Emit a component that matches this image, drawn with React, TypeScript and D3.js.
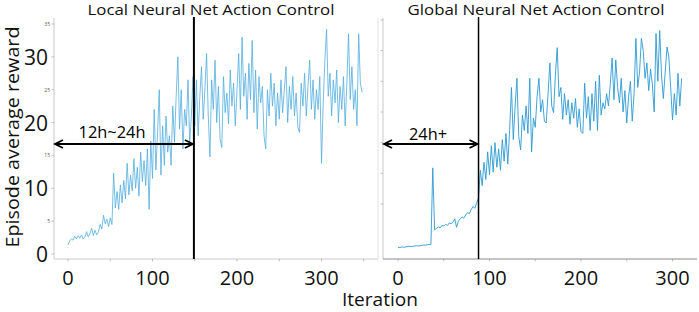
import React from 'react';
import * as d3 from 'd3';

// Iterations are sampled every STEP iterations, starting at 0
const STEP = 2;

// Local Neural Net Action Control: episode average reward (iter 0..348)
const localReward = [
  1.4, 2.0, 2.3, 2.1, 2.7, 2.3, 2.8, 2.4, 2.9, 2.3,
  2.6, 3.4, 2.6, 3.1, 3.9, 2.8, 3.6, 2.9, 3.3, 4.5,
  3.8, 5.9, 4.6, 5.3, 4.2, 5.5,
  4.5, 12.3, 7.0, 9.5, 6.8, 10.5, 7.8, 11.2, 8.4, 13.8,
  9.0, 12.0, 9.6, 14.5, 10.0, 13.2, 8.8, 15.5, 11.0, 14.2,
  10.4, 16.0, 6.8, 17.2, 11.5,
  22.0, 12.8, 18.5, 25.0, 12.0, 19.5, 13.5, 21.0, 15.5, 18.0,
  13.5, 22.5, 17.0, 24.0, 30.0, 19.0, 25.0, 16.0, 22.0, 19.5,
  26.5, 17.0, 21.0, 27.0,
  19.5, 26.5, 18.0, 24.0, 28.5, 20.5, 25.0, 30.5, 21.0, 14.8,
  26.5, 22.0, 29.5, 20.0, 25.5, 17.5, 16.2, 27.0, 21.5, 24.5,
  19.8, 28.0, 22.5, 26.0, 19.5, 25.0, 30.5, 22.0, 33.0, 24.0,
  27.5, 20.5, 29.0, 23.5, 32.5, 21.5, 28.0, 19.0, 27.0, 23.0,
  25.5, 18.0, 16.0, 25.0, 21.0, 27.5, 22.5, 26.0, 19.5, 24.5,
  20.5, 26.5, 21.5, 25.0, 28.5, 20.0, 25.5, 22.0, 27.0, 21.0,
  24.5, 19.3, 18.5, 26.0, 22.5, 27.5, 21.0, 25.5, 29.5, 22.0,
  26.5, 20.5, 25.0, 22.0, 27.0, 13.8, 23.0, 29.5, 34.2, 24.0,
  27.5, 21.0, 26.5, 23.0, 28.0, 20.0, 25.5, 22.0, 27.0, 19.5,
  26.0, 33.5, 23.5, 28.5, 22.0, 25.0, 19.5, 33.5, 26.0, 24.6,
];

// Global Neural Net Action Control: episode average reward (iter 0..310)
const globalReward = [
  2.9, 2.9, 3.0, 2.95, 3.0, 3.05, 3.1, 3.05, 3.1, 3.15,
  3.2, 3.15, 3.2, 3.25, 3.3, 3.3, 3.35, 3.4, 3.4, 15.9,
  5.8, 6.0, 6.3, 6.1, 6.5, 6.4, 6.7, 6.5, 6.9, 6.8,
  7.0, 7.6, 6.2, 7.2, 7.6, 7.9, 7.7, 8.2, 8.6, 8.4,
  9.1, 9.6, 9.3, 10.2, 11.0,
  15.5, 13.0, 16.8, 14.0, 18.5, 14.8, 19.5, 15.2, 20.0, 16.0,
  19.0, 15.5, 20.5, 17.0, 21.5, 16.5, 22.0, 29.0, 20.5, 26.0,
  30.5, 21.0, 18.8, 24.5, 22.0, 26.0, 21.5, 30.5, 18.5, 24.0,
  22.5, 27.5, 30.5, 25.0, 27.0, 23.5, 23.2, 28.0, 33.0, 26.0,
  24.9, 31.0, 35.5, 27.5, 29.0, 23.8, 28.0, 24.5, 27.0, 23.0,
  26.5, 24.0, 27.2, 22.5, 25.5, 21.8, 21.5, 29.7, 24.0, 27.5,
  22.0, 28.0, 23.5, 30.0, 22.0, 31.0, 24.5, 26.5, 25.5, 28.0,
  26.0, 29.5, 33.8, 27.0, 33.5, 29.0, 26.5, 30.5, 25.0, 28.5,
  23.2, 27.5, 30.0, 23.5, 28.0, 37.0, 29.0, 31.5, 37.0, 35.0,
  30.5, 33.0, 28.5, 32.0, 29.5, 25.0, 37.8, 30.0, 38.3, 31.0,
  27.2, 31.5, 35.6, 34.0, 29.0, 23.7, 28.0, 24.5, 31.3, 26.0,
  30.5,
];

const titles = ['Local Neural Net Action Control', 'Global Neural Net Action Control'];
const durationLabels = ['12h~24h', '24h+'];
const switchIteration = [149, 88];
const xTickLabels = [0, 100, 200, 300];
const xMinorTicks = [0, 50, 100, 150, 200, 250, 300, 350];
const xMinorTicksRight = [0, 50, 100, 150, 200, 250, 300];
const leftBigTicks = [0, 10, 20, 30];
const leftSmallLabels = [5, 15, 25, 35];
const leftMinorTicks = [0, 5, 10, 15, 20, 25, 30, 35];
const rightMinorTicks = [10, 15, 20, 25, 30, 35, 40];
const yAxisTitle = 'Episode average reward';
const xAxisTitle = 'Iteration';

const FONT = '"Open Sans", "Noto Sans", sans-serif';
const AXIS = '#c9c9c9';

function Arrow({ x1, x2, y }: { x1: number; x2: number; y: number }) {
  const h = 8, w = 4;
  return (
    <g stroke="#000" strokeWidth={1.8} fill="none">
      <line x1={x1} x2={x2} y1={y} y2={y} />
      <polyline points={`${x1 + h},${y - w} ${x1},${y} ${x1 + h},${y + w}`} />
      <polyline points={`${x2 - h},${y - w} ${x2},${y} ${x2 - h},${y + w}`} />
    </g>
  );
}

export default function App() {
  const xL = d3.scaleLinear().domain([0, 300]).range([68, 321.5]);
  const yL = d3.scaleLinear().domain([0, 35]).range([254, 24]);
  const xR = d3.scaleLinear().domain([0, 300]).range([398, 672.5]);
  const yR = d3.scaleLinear().domain([10, 40]).range([204, 20]);

  const lineL = d3.line<number>().x((_, i) => xL(i * STEP)).y((d) => yL(d));
  const lineR = d3.line<number>().x((_, i) => xR(i * STEP)).y((d) => yR(d));

  const top = 18, bottom = 259;
  const lLeft = 54, lRight = 378, rLeft = 383, rRight = 697;
  const vL = xL(switchIteration[0]);
  const vR = xR(switchIteration[1]);

  return (
    <svg width={699} height={312} style={{ position: 'absolute', left: 0, top: 0, background: '#fff' }} fontFamily={FONT}>
      <rect width={699} height={312} fill="#fff" />
      {/* Left panel frame */}
      <line x1={lLeft} x2={lLeft} y1={top} y2={bottom} stroke={AXIS} />
      <line x1={lLeft} x2={lRight} y1={bottom} y2={bottom} stroke={AXIS} />
      <line x1={lRight} x2={lRight} y1={top} y2={bottom} stroke="#e2e2e2" />
      {leftMinorTicks.map((t) => (
        <line key={'lt' + t} x1={lLeft - 2.5} x2={lLeft} y1={yL(t)} y2={yL(t)} stroke="#999" strokeWidth={0.6} />
      ))}
      {leftSmallLabels.map((t) => (
        <text key={'ls' + t} x={lLeft - 4} y={yL(t)} fontSize={5} fill="#555" textAnchor="end" dominantBaseline="central">{t}</text>
      ))}
      {xMinorTicks.map((t) => (
        <line key={'lx' + t} x1={xL(t)} x2={xL(t)} y1={bottom} y2={bottom + 2.5} stroke="#999" strokeWidth={0.6} />
      ))}
      <path d={lineL(localReward) || ''} fill="none" stroke="#52addd" strokeWidth={0.8} strokeLinejoin="round" />

      {/* Right panel frame */}
      <line x1={rLeft} x2={rLeft} y1={top} y2={bottom} stroke={AXIS} />
      <line x1={rLeft} x2={rRight} y1={bottom} y2={bottom} stroke="#8a8a8a" />
      {rightMinorTicks.map((t) => (
        <line key={'rt' + t} x1={rLeft - 2.5} x2={rLeft} y1={yR(t)} y2={yR(t)} stroke="#999" strokeWidth={0.6} />
      ))}
      {xMinorTicksRight.map((t) => (
        <line key={'rx' + t} x1={xR(t)} x2={xR(t)} y1={bottom} y2={bottom + 2.5} stroke="#999" strokeWidth={0.6} />
      ))}
      <path d={lineR(globalReward) || ''} fill="none" stroke="#2b9ad3" strokeWidth={0.9} strokeLinejoin="round" />

      {/* Switch lines */}
      <line x1={vL} x2={vL} y1={top - 1} y2={bottom} stroke="#000" strokeWidth={2} />
      <line x1={vR} x2={vR} y1={top - 1} y2={bottom} stroke="#000" strokeWidth={1.5} />

      {/* Arrows and durations */}
      <Arrow x1={lLeft + 1} x2={vL - 1} y={144} />
      <Arrow x1={rLeft + 1} x2={vR - 1} y={144} />
      <text x={112} y={138} fontSize={17} textAnchor="middle" fill="#000" textLength={67} lengthAdjust="spacingAndGlyphs">{durationLabels[0]}</text>
      <text x={428} y={140} fontSize={17} textAnchor="middle" fill="#000" textLength={38} lengthAdjust="spacingAndGlyphs">{durationLabels[1]}</text>

      {/* Titles */}
      <text x={211} y={15} fontSize={14.5} textAnchor="middle" fill="#111" textLength={247} lengthAdjust="spacingAndGlyphs">{titles[0]}</text>
      <text x={536} y={15} fontSize={14.5} textAnchor="middle" fill="#111" textLength={257} lengthAdjust="spacingAndGlyphs">{titles[1]}</text>

      {/* Big axis labels */}
      {leftBigTicks.map((t) => (
        <text key={'lb' + t} x={48} y={yL(t)} fontSize={21} textAnchor="end" dominantBaseline="central" fill="#111">{t}</text>
      ))}
      {xTickLabels.map((t) => (
        <text key={'xl' + t} x={xL(t)} y={285} fontSize={20} textAnchor="middle" fill="#111">{t}</text>
      ))}
      {xTickLabels.map((t) => (
        <text key={'xr' + t} x={xR(t)} y={285} fontSize={20} textAnchor="middle" fill="#111">{t}</text>
      ))}
      <text x={380} y={306} fontSize={19} textAnchor="middle" fill="#111" textLength={76} lengthAdjust="spacingAndGlyphs">{xAxisTitle}</text>
      <text transform="translate(18.5,137) rotate(-90)" fontSize={18.5} textAnchor="middle" fill="#111" textLength={221} lengthAdjust="spacingAndGlyphs">{yAxisTitle}</text>
    </svg>
  );
}
